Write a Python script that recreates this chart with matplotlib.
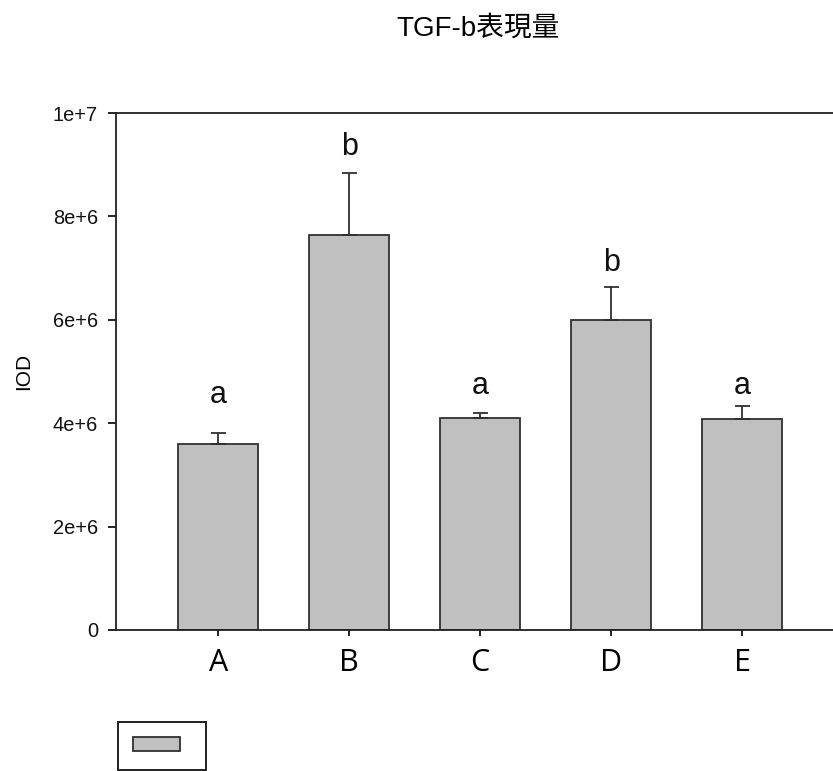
import matplotlib.pyplot as plt
from matplotlib.ticker import FixedLocator

# bar chart data (IOD per group)
groups = ['A', 'B', 'C', 'D', 'E']
iod_mean = [3.60e6, 7.64e6, 4.10e6, 6.00e6, 4.08e6]
iod_err = [0.21e6, 1.20e6, 0.10e6, 0.63e6, 0.25e6]
sig_letters = ['a', 'b', 'a', 'b', 'a']
letter_y = [4.39e6, 9.19e6, 4.56e6, 6.94e6, 4.56e6]
y_ticks = [0, 2e6, 4e6, 6e6, 8e6, 1e7]
y_tick_labels = ['0', '2e+6', '4e+6', '6e+6', '8e+6', '1e+7']

plt.rcParams['font.family'] = ['Liberation Sans', 'Noto Sans CJK TC', 'DejaVu Sans']

fig = plt.figure(figsize=(8.33, 7.71), dpi=100)
# axes runs off the right edge of the figure like the original export
ax = fig.add_axes([0.1393, 0.1829, 0.909, 0.6705])

x = list(range(len(groups)))
bars = ax.bar(x, iod_mean, width=0.61, color='#c0c0c0', edgecolor='#303030',
              linewidth=1.3, zorder=2)
ax.errorbar(x, iod_mean, yerr=[[0] * len(iod_err), iod_err], fmt='none',
            ecolor='#303030', elinewidth=1.3, capsize=5.4, capthick=1.3, zorder=3)

for xi, lab, yy in zip(x, sig_letters, letter_y):
    ax.text(xi, yy, lab, ha='center', va='baseline', fontsize=22, color='#111111')

ax.set_xlim(-0.78, 5.0)
ax.set_ylim(0, 1e7)
ax.set_xticks(x)
ax.set_xticklabels(groups, fontsize=22, family=['Open Sans', 'DejaVu Sans'])
ax.yaxis.set_major_locator(FixedLocator(y_ticks))
ax.set_yticklabels(y_tick_labels, fontsize=14.4, color='#111111')
ax.tick_params(axis='y', direction='out', length=6, width=1.2, pad=7)
ax.tick_params(axis='x', direction='out', length=4.3, width=1.2, pad=9)

for side in ['left', 'bottom', 'top']:
    ax.spines[side].set_linewidth(1.3)
    ax.spines[side].set_color('#202020')
ax.spines['right'].set_visible(False)

ax.set_ylabel('IOD', fontsize=15)
ax.yaxis.set_label_coords(-0.1215, 0.5)
ax.yaxis.label.set_verticalalignment('center')

fig.text(0.574, 1 - 29 / 771, 'TGF-b表現量', ha='center', va='center', fontsize=20)

leg = fig.legend(handles=[bars], labels=[''], loc='upper left',
                 bbox_to_anchor=(118 / 833, 1 - 722 / 771), fontsize=14,
                 handlelength=2.4, handleheight=0.77, handletextpad=0.57,
                 borderpad=0.77, borderaxespad=0, fancybox=False, framealpha=1)
leg.get_frame().set_edgecolor('#202020')
leg.get_frame().set_linewidth(1.4)

fig.savefig('out.png', dpi=100)
